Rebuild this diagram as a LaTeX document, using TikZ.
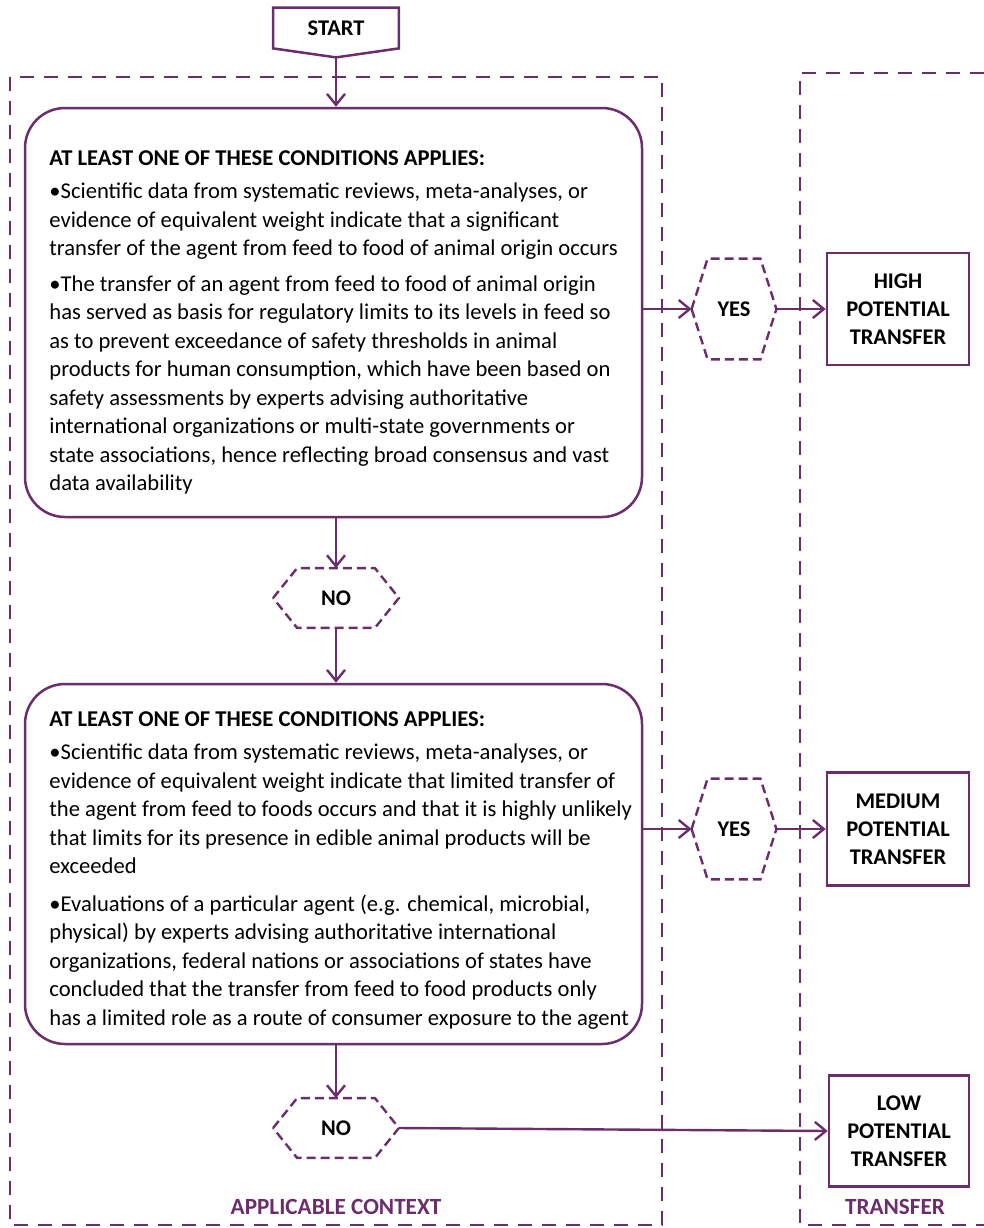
\documentclass[tikz,border=0pt]{standalone}
\usepackage{fontspec}
\setmainfont{Carlito}
\usepackage{xcolor}
\usepackage{tikz}
\usetikzlibrary{positioning, arrows.meta, calc}
\definecolor{ctxpurple}{HTML}{6B2D6B}

\begin{document}
\begin{tikzpicture}[
  x=0.5pt, y=-0.5pt,
  font=\fontsize{11.3}{14.25}\selectfont,
  frame/.style={draw=ctxpurple, line width=1.2pt, dash pattern=on 7pt off 5pt},
  cond/.style={
    rectangle, rounded corners=20pt, draw=ctxpurple, line width=1.25pt,
    fill=white, minimum width=308.5pt
  },
  condtext/.style={anchor=north west, inner sep=0pt, align=left},
  result/.style={
    rectangle, draw=ctxpurple, line width=1.25pt, fill=white,
    minimum width=71pt, minimum height=56pt, align=center,
    font=\fontsize{11.2}{14}\selectfont\bfseries
  },
  answer/.style={inner sep=0pt, font=\fontsize{11.2}{14}\selectfont\bfseries},
  hexline/.style={draw=ctxpurple, line width=1.2pt, dash pattern=on 4.5pt off 2.5pt},
  link/.style={draw=ctxpurple, line width=1.2pt,
    -{Straight Barb[length=5.5pt,width=9pt,line width=1.2pt]}},
  caption/.style={font=\fontsize{11.6}{14}\selectfont\bfseries\color{ctxpurple}},
]
\useasboundingbox (0,0) rectangle (984,1228);

% frames
\draw[frame] (10,77) rectangle (662,1225);
\draw[frame] (984,73) -- (800,73) -- (800,1225) -- (984,1225);
\node[caption] (ctxlbl) at (336,1207) {APPLICABLE CONTEXT};
\node[caption] (trflbl) at (895,1207) {TRANSFER};

% start
\node[answer, minimum width=62.5pt, minimum height=20pt] (start) at (336,28) {START};
\draw[draw=ctxpurple, line width=1.25pt, fill=white]
  (start.north west) -- (start.north east) -- (start.south east)
  -- ($(start.south)+(0,9)$) coordinate (starttip) -- (start.south west) -- cycle;
\node[answer] at (start) {START};

% first condition block
\node[cond, minimum height=204.5pt] (cond1) at (333.5,312.5) {};
\node[condtext] (cond1txt) at (49,150) {
  \textbf{AT LEAST ONE OF THESE CONDITIONS APPLIES:}\\[2.5pt]
  •Scientific data from systematic reviews, meta-analyses, or\\
  evidence of equivalent weight indicate that a significant\\
  transfer of the agent from feed to food of animal origin occurs\\[3.5pt]
  •The transfer of an agent from feed to food of animal origin\\
  has served as basis for regulatory limits to its levels in feed so\\
  as to prevent exceedance of safety thresholds in animal\\
  products for human consumption, which have been based on\\
  safety assessments by experts advising authoritative\\
  international organizations or multi-state governments or\\
  state associations, hence reflecting broad consensus and vast\\
  data availability
};

\node[answer, minimum width=42pt, minimum height=50pt] (yes1) at (734,309) {YES};
\draw[hexline] (yes1.west) -- ([xshift=8pt]yes1.north west) -- ([xshift=-8pt]yes1.north east)
  -- (yes1.east) -- ([xshift=-8pt]yes1.south east) -- ([xshift=8pt]yes1.south west) -- cycle;
\node[result] (high) at (898,309) {HIGH\\POTENTIAL\\TRANSFER};

\node[answer, minimum width=62.5pt, minimum height=29.5pt] (no1) at (336,598) {NO};
\draw[hexline] (no1.west) -- ([xshift=12pt]no1.north west) -- ([xshift=-12pt]no1.north east)
  -- (no1.east) -- ([xshift=-12pt]no1.south east) -- ([xshift=12pt]no1.south west) -- cycle;

% second condition block
\node[cond, minimum height=180pt] (cond2) at (333.5,864) {};
\node[condtext] (cond2txt) at (49,711) {
  \textbf{AT LEAST ONE OF THESE CONDITIONS APPLIES:}\\[2.5pt]
  •Scientific data from systematic reviews, meta-analyses, or\\
  evidence of equivalent weight indicate that limited transfer of\\
  the agent from feed to foods occurs and that it is highly unlikely\\
  that limits for its presence in edible animal products will be\\
  exceeded\\[4.5pt]
  •Evaluations of a particular agent (e.g. chemical, microbial,\\
  physical) by experts advising authoritative international\\
  organizations, federal nations or associations of states have\\
  concluded that the transfer from feed to food products only\\
  has a limited role as a route of consumer exposure to the agent
};

\node[answer, minimum width=42pt, minimum height=50pt] (yes2) at (734,829) {YES};
\draw[hexline] (yes2.west) -- ([xshift=8pt]yes2.north west) -- ([xshift=-8pt]yes2.north east)
  -- (yes2.east) -- ([xshift=-8pt]yes2.south east) -- ([xshift=8pt]yes2.south west) -- cycle;
\node[result, minimum height=56.5pt] (medium) at (898,829) {MEDIUM\\POTENTIAL\\TRANSFER};

\node[answer, minimum width=62.5pt, minimum height=29.5pt] (no2) at (336,1128) {NO};
\draw[hexline] (no2.west) -- ([xshift=12pt]no2.north west) -- ([xshift=-12pt]no2.north east)
  -- (no2.east) -- ([xshift=-12pt]no2.south east) -- ([xshift=12pt]no2.south west) -- cycle;
\node[result, minimum width=70pt, minimum height=55.5pt] (low) at (899,1131) {LOW\\POTENTIAL\\TRANSFER};

% connectors
\draw[link] (starttip) -- (cond1.north -| starttip);
\draw[link] (cond1.east |- yes1.west) -- (yes1.west);
\draw[link] (yes1.east) -- (high.west);
\draw[link] (cond1.south -| no1) -- (no1.north);
\draw[link] (no1.south) -- (cond2.north -| no1);
\draw[link] (cond2.east |- yes2.west) -- (yes2.west);
\draw[link] (yes2.east) -- (medium.west);
\draw[link] (cond2.south -| no2) -- (no2.north);
\draw[link] (no2.east) -- (low.west);

\end{tikzpicture}
\end{document}
